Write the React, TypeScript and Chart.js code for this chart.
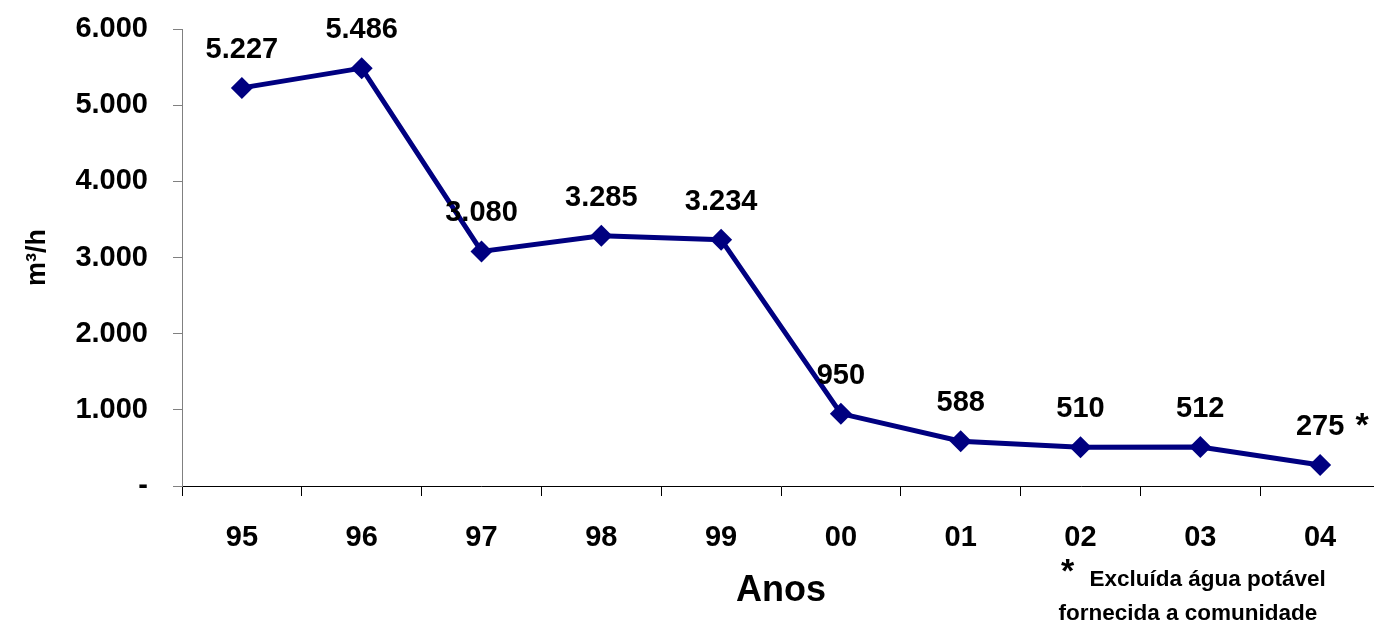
import React, { useEffect, useRef } from 'react';
import { Chart, registerables } from 'chart.js';

Chart.register(...registerables);

const categories = ['95', '96', '97', '98', '99', '00', '01', '02', '03', '04'];
const flowValues = [5227, 5486, 3080, 3285, 3234, 950, 588, 510, 512, 275];
const yMin = 0;
const yMax = 6000;
const yStep = 1000;
const footnoteMark = '*';
const footnoteLines = ['Excluída água potável', 'fornecida a comunidade'];
const xTitle = 'Anos';
const yTitle = 'm³/h';

const FONT = 'Arial, "Liberation Sans", Helvetica, sans-serif';
const NAVY = '#000080';

function formatThousands(v: number): string {
  if (v === 0) return '-';
  return String(Math.round(v)).replace(/\B(?=(\d{3})+(?!\d))/g, '.');
}

const labelPlugin = {
  id: 'valueLabels',
  afterDatasetsDraw(chart: any) {
    const ctx = chart.ctx;
    const meta = chart.getDatasetMeta(0);
    ctx.save();
    ctx.fillStyle = '#000';
    ctx.font = `bold 29px ${FONT}`;
    ctx.textAlign = 'center';
    ctx.textBaseline = 'alphabetic';
    meta.data.forEach((pt: any, i: number) => {
      ctx.fillText(formatThousands(flowValues[i]), pt.x, pt.y - 30);
    });
    // asterisk after last value label
    const last = meta.data[meta.data.length - 1];
    ctx.font = `bold 34px ${FONT}`;
    ctx.textAlign = 'center';
    ctx.textBaseline = 'middle';
    ctx.fillText(footnoteMark, last.x + 42, last.y - 38);

    // footnote
    const xs = chart.scales.x;
    const fx = xs.getPixelForValue(7);
    ctx.font = `bold 34px ${FONT}`;
    ctx.textAlign = 'center';
    ctx.fillText(footnoteMark, fx - 13, 573);
    ctx.font = `bold 22.5px ${FONT}`;
    ctx.textAlign = 'left';
    ctx.fillText(footnoteLines[0], fx + 9, 580);
    ctx.fillText(footnoteLines[1], fx - 22, 614);
    ctx.restore();
  },
};

export default function App() {
  const canvasRef = useRef<HTMLCanvasElement | null>(null);

  useEffect(() => {
    const canvas = canvasRef.current;
    if (!canvas) return;
    const chart = new Chart(canvas, {
      type: 'line',
      data: {
        labels: categories,
        datasets: [
          {
            data: flowValues,
            borderColor: NAVY,
            backgroundColor: NAVY,
            borderWidth: 5,
            pointStyle: 'rectRot',
            pointRadius: 11,
            pointHoverRadius: 11,
            pointBackgroundColor: NAVY,
            pointBorderColor: NAVY,
            pointBorderWidth: 0,
            tension: 0,
            fill: false,
          },
        ],
      },
      options: {
        responsive: false,
        animation: false,
        events: [],
        layout: { autoPadding: false, padding: { top: 29, left: 0, right: 0, bottom: 0 } },
        plugins: {
          legend: { display: false },
          tooltip: { enabled: false },
        },
        scales: {
          x: {
            type: 'category',
            offset: true,
            grid: {
              offset: true,
              drawOnChartArea: false,
              drawTicks: true,
              tickLength: 10,
              color: '#000',
              tickColor: '#000',
            },
            border: { display: true, color: '#000', width: 1 },
            ticks: {
              color: '#000',
              padding: 25,
              maxRotation: 0,
              font: { family: FONT, size: 29, weight: 'bold' },
            },
            title: {
              display: true,
              text: xTitle,
              color: '#000',
              font: { family: FONT, size: 36, weight: 'bold' },
              padding: { top: 0, bottom: 13 },
            },
            afterFit: (scale: any) => {
              scale.height = 140;
              scale.paddingLeft = 0;
              scale.paddingRight = 0;
              scale.paddingTop = 0;
              scale.paddingBottom = 0;
            },
          },
          y: {
            min: yMin,
            max: yMax,
            grid: {
              drawOnChartArea: false,
              drawTicks: true,
              tickLength: 9,
              color: '#808080',
              tickColor: '#808080',
            },
            border: { display: true, color: '#808080', width: 1 },
            ticks: {
              stepSize: yStep,
              color: '#000',
              padding: 25,
              font: { family: FONT, size: 29, weight: 'bold' },
              callback: (v: any) => formatThousands(Number(v)),
            },
            title: {
              display: true,
              text: yTitle,
              color: '#000',
              font: { family: FONT, size: 27, weight: 'bold' },
              padding: { top: 21, bottom: 0 },
            },
            afterFit: (scale: any) => {
              scale.width = 182;
              scale.paddingLeft = 0;
              scale.paddingRight = 0;
              scale.paddingTop = 0;
              scale.paddingBottom = 0;
            },
          },
        },
      },
      plugins: [labelPlugin],
    });
    return () => chart.destroy();
  }, []);

  return (
    <div
      style={{
        position: 'fixed',
        left: 0,
        top: 0,
        width: 1374,
        height: 626,
        overflow: 'hidden',
        background: '#fff',
      }}
    >
      <canvas ref={canvasRef} width={1380} height={626} style={{ display: 'block' }} />
    </div>
  );
}
